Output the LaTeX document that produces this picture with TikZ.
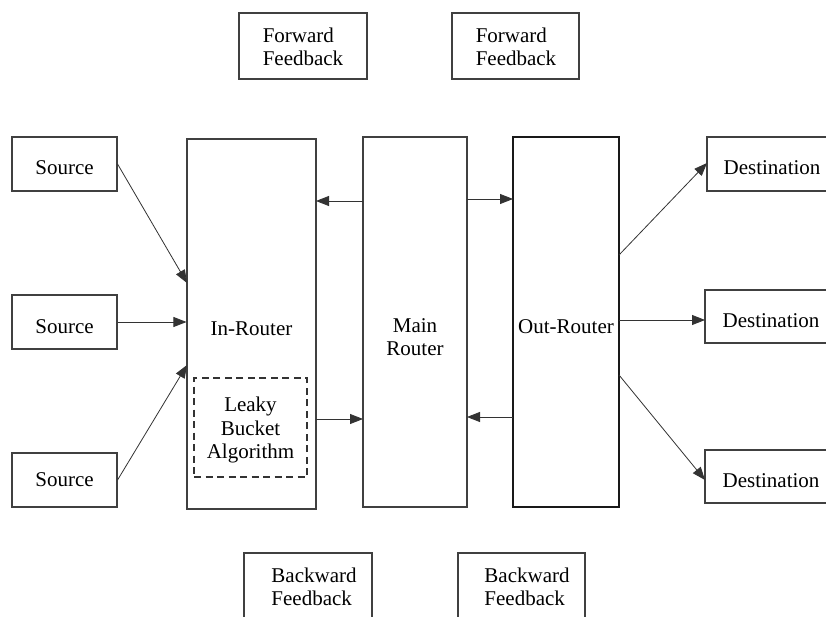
\documentclass[tikz,border=0pt]{standalone}
\usepackage{fontspec}
\setmainfont{Liberation Serif}
\usetikzlibrary{arrows.meta,calc}
\begin{document}
\begin{tikzpicture}[x=1pt,y=-1pt,
  box/.style={draw=black!75,line width=1.1pt,rectangle,inner sep=0pt,font=\fontsize{21}{23.5}\selectfont},
  low/.style={text height=22pt,text depth=0pt},
  lbl/.style={align=left,font=\fontsize{21}{23.5}\selectfont,inner sep=0pt},
  arr/.style={draw=black!80,line width=0.8pt,-{Triangle[length=13pt,width=10pt]}},
  dashbox/.style={draw=black!80,line width=1.3pt,dash pattern=on 7pt off 4.5pt,rectangle,inner sep=0pt,font=\fontsize{21}{23.5}\selectfont}]
\useasboundingbox (0,0) rectangle (826,617);
\fill[white] (0,0) rectangle (826,617);
\clip (0,0) rectangle (826,617);
% feedback boxes
\node[box,minimum width=128pt,minimum height=66pt] (ff1) at (303,46) {};
\node[lbl] (ff1t) at (303,47) {Forward\\Feedback};
\node[box,minimum width=127pt,minimum height=66pt] (ff2) at (515.5,46) {};
\node[lbl] (ff2t) at (516,47) {Forward\\Feedback};
\node[box,minimum width=128pt,minimum height=66pt] (bf1) at (308,586) {};
\node[lbl] (bf1t) at (314,587) {Backward\\Feedback};
\node[box,minimum width=127pt,minimum height=66pt] (bf2) at (521.5,586) {};
\node[lbl] (bf2t) at (527,587) {Backward\\Feedback};
% sources
\node[box,low,minimum width=105pt,minimum height=54pt] (s1) at (64.5,164) {Source};
\node[box,low,minimum width=105pt,minimum height=54pt] (s2) at (64.5,322) {Source};
\node[box,minimum width=105pt,minimum height=54pt] (s3) at (64.5,480) {Source};
% routers
\node[box,low,minimum width=129pt,minimum height=370pt] (in) at (251.5,324) {In-Router};
\node[box,minimum width=104pt,minimum height=370pt] (main) at (415,322) {};
\node[lbl,align=center] (maint) at (415,337) {Main\\Router};
\node[box,low,draw=black!90,line width=1.6pt,minimum width=106pt,minimum height=370pt] (out) at (566,322) {Out-Router};
\node[dashbox,minimum width=113pt,minimum height=99pt] (leaky) at (250.5,427.5) {};
\node[lbl,align=center] (leakyt) at (250.5,430) {Leaky\\Bucket\\Algorithm};
% destinations
\node[box,low,minimum width=130pt,minimum height=54pt] (d1) at (772,164) {Destination};
\node[box,low,minimum width=132pt,minimum height=53pt] (d2) at (771,316.5) {Destination};
\node[box,low,minimum width=132pt,minimum height=53pt] (d3) at (771,476.5) {Destination};
% connector end points
\coordinate (inA) at (187,283);
\coordinate (inC) at (187,365);
\coordinate (mainL1) at (363,201);
\coordinate (inR1) at (316,201);
\coordinate (mainR1) at (467,199);
\coordinate (outL1) at (513,199);
\coordinate (inR2) at (316,419);
\coordinate (mainL2) at (363,419);
\coordinate (outL2) at (513,417);
\coordinate (mainR2) at (467,417);
\coordinate (outA) at (619,255);
\coordinate (outB) at (619,320);
\coordinate (outC) at (619,375);
\coordinate (dA) at (707,163);
\coordinate (dB) at (705,320);
\coordinate (dC) at (705,480);
% connectors
\draw[arr] (s1.east) -- (inA);
\draw[arr] (s2.east) -- (s2.east -| in.west);
\draw[arr] (s3.east) -- (inC);
\draw[arr] (mainL1) -- (inR1);
\draw[arr] (mainR1) -- (outL1);
\draw[arr] (inR2) -- (mainL2);
\draw[arr] (outL2) -- (mainR2);
\draw[arr] (outA) -- (dA);
\draw[arr] (outB) -- (dB);
\draw[arr] (outC) -- (dC);
\end{tikzpicture}
\end{document}
